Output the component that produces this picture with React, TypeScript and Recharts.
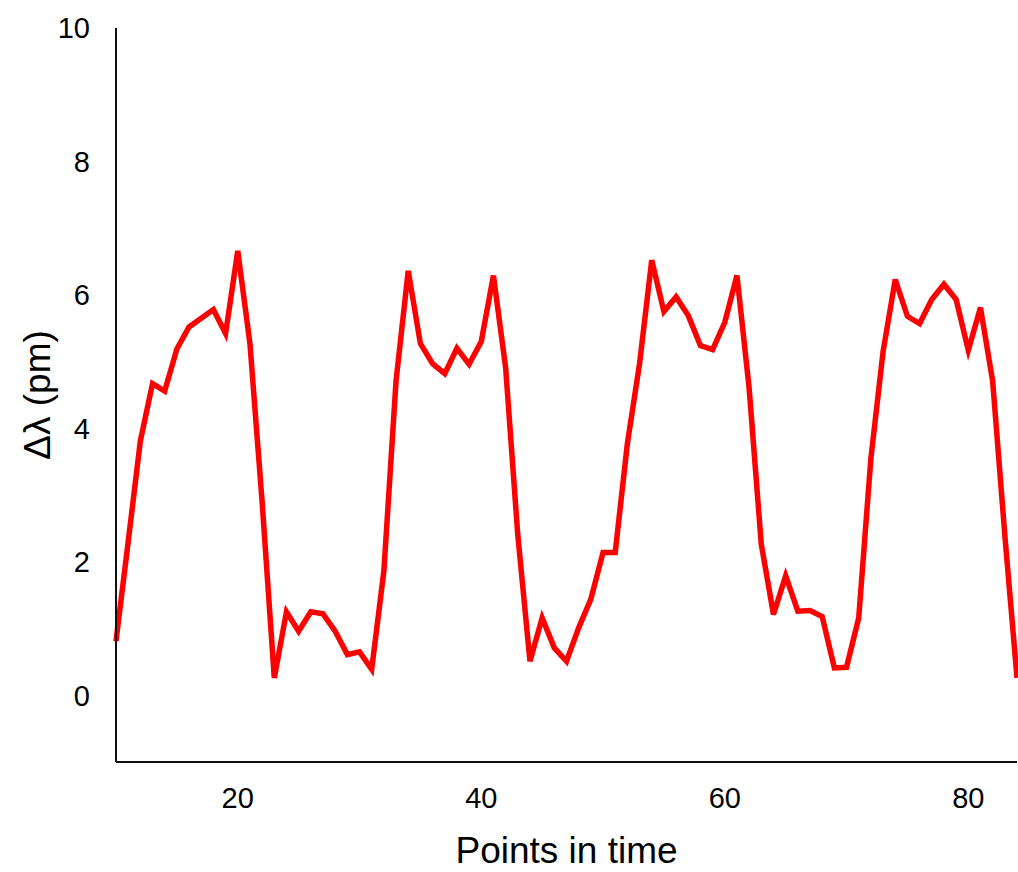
import { LineChart, Line, XAxis, YAxis, Label } from "recharts";

// x = 10..84, one reading per point in time
const startPoint = 10;
const shiftPm = [
  0.81, 2.3, 3.81, 4.67, 4.56, 5.19, 5.52, 5.65, 5.78, 5.42,
  6.66, 5.27, 2.9, 0.26, 1.25, 0.96, 1.25, 1.22, 0.96, 0.61,
  0.65, 0.39, 1.86, 4.71, 6.36, 5.27, 4.97, 4.82, 5.2, 4.96,
  5.3, 6.29, 4.91, 2.4, 0.51, 1.16, 0.71, 0.51, 1.01, 1.44,
  2.14, 2.14, 3.77, 4.97, 6.52, 5.75, 5.97, 5.69, 5.24, 5.18,
  5.59, 6.29, 4.6, 2.26, 1.21, 1.79, 1.26, 1.27, 1.18, 0.41,
  0.42, 1.16, 3.55, 5.15, 6.23, 5.68, 5.57, 5.93, 6.16, 5.93,
  5.17, 5.81, 4.71, 2.4, 0.26,
];
const xTicks = [20, 40, 60, 80];
const yTicks = [0, 2, 4, 6, 8, 10];

const data = shiftPm.map((v, i) => ({ t: startPoint + i, v }));

const font = "'Liberation Sans', Arial, sans-serif";

export default function App() {
  return (
    <div style={{ position: "absolute", left: 0, top: 0, background: "#fff" }}>
      <LineChart
        width={1018}
        height={872}
        data={data}
        margin={{ top: 28, right: 1, bottom: 0, left: 0 }}
      >
        <XAxis
          dataKey="t"
          type="number"
          domain={[10, 84]}
          ticks={xTicks}
          tickLine={false}
          tickSize={24}
          tickMargin={1}
          height={110}
          axisLine={{ stroke: "#111", strokeWidth: 2 }}
          tick={{ fill: "#000", fontSize: 29, fontFamily: font }}
        >
          <Label
            value="Points in time"
            position="insideBottom"
            offset={9}
            style={{ fill: "#000", fontSize: 37, fontFamily: font }}
          />
        </XAxis>
        <YAxis
          type="number"
          domain={[-1, 10]}
          ticks={yTicks}
          interval={0}
          width={116}
          tickLine={false}
          tickSize={20}
          tickMargin={6}
          axisLine={{ stroke: "#111", strokeWidth: 2 }}
          tick={{ fill: "#000", fontSize: 29, fontFamily: font }}
        >
          <Label
            value="Δλ (pm)"
            angle={-90}
            position="insideLeft"
            offset={37}
            style={{ textAnchor: "middle", fill: "#000", fontSize: 37, fontFamily: font }}
          />
        </YAxis>
        <Line
          type="linear"
          dataKey="v"
          stroke="#ff0000"
          strokeWidth={5.5}
          dot={false}
          isAnimationActive={false}
        />
      </LineChart>
    </div>
  );
}
